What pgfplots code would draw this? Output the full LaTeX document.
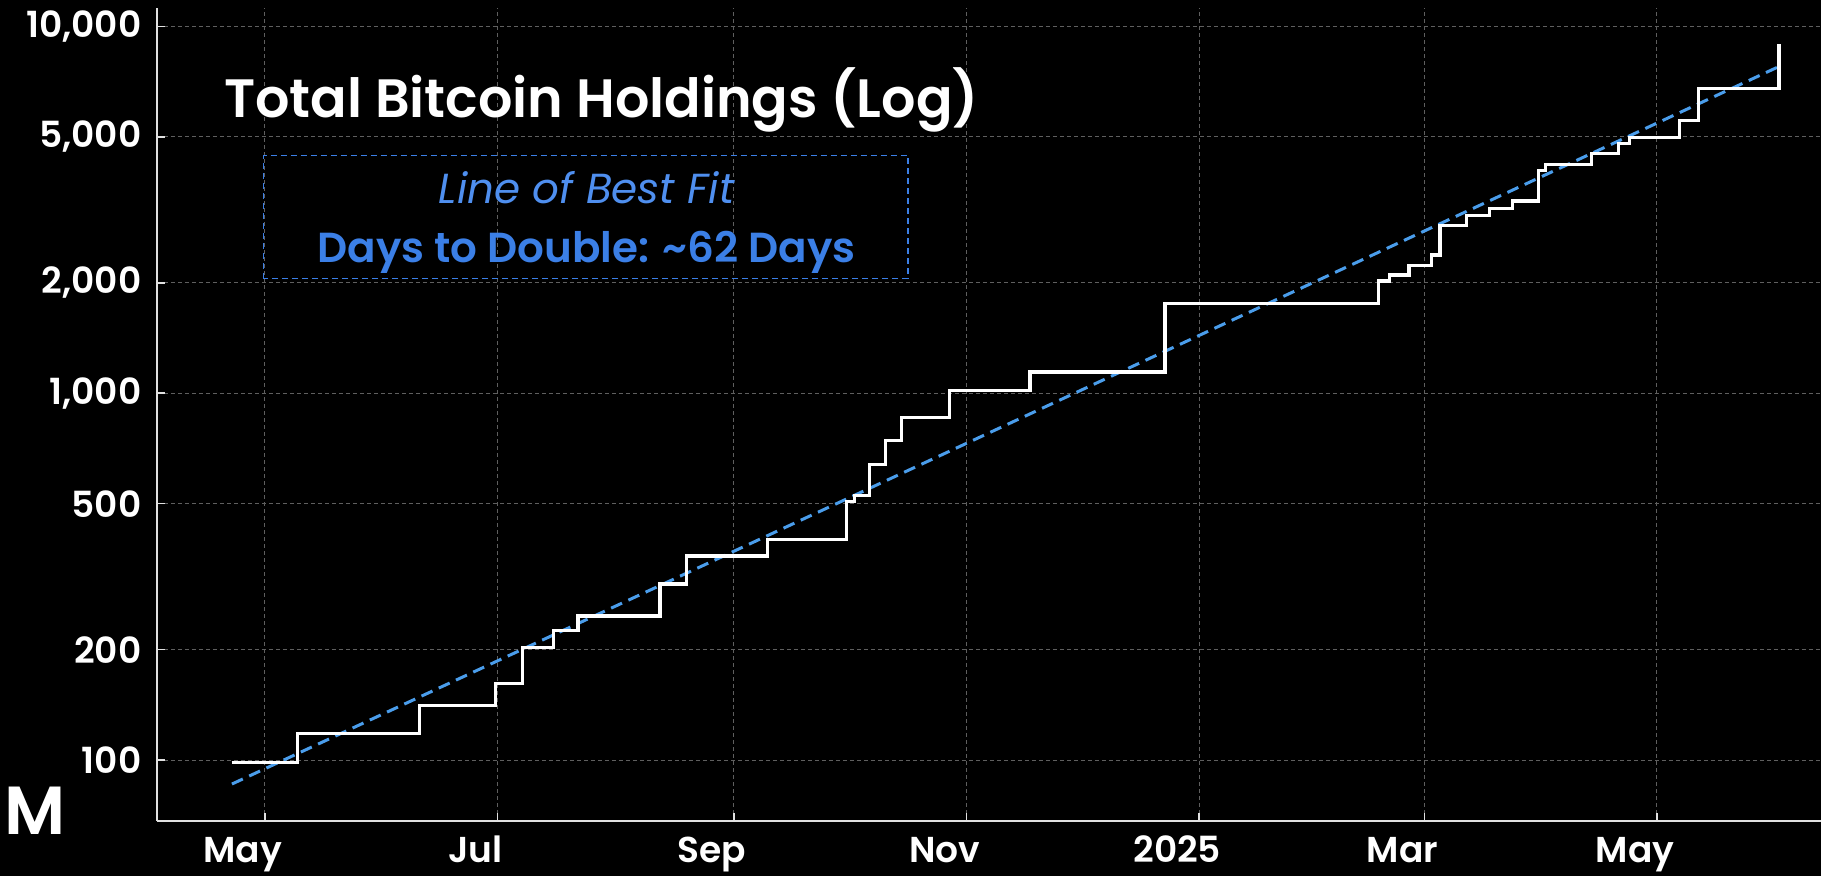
\documentclass[border=0pt]{standalone}
\usepackage{fontspec}
\setmainfont{Poppins}[BoldFont={Poppins SemiBold}, BoldItalicFont={Poppins SemiBold Italic}]
\usepackage{pgfplots}
\pgfplotsset{compat=1.18}
\definecolor{fitblue}{HTML}{4A9DEB}
\definecolor{boxblue}{HTML}{3B7FE6}
\definecolor{lineblue}{HTML}{4F8FEF}
\definecolor{gridgray}{RGB}{95,95,95}
\definecolor{spine}{RGB}{225,225,225}
\pgfplotstableread{
day value
-8.7 98.4
8.6 118
40.6 141
60.5 162
67.5 203
75.7 226
82.1 247
103.6 302
110.5 360
131.8 400
152.6 507
154.7 525
158.6 640
162.7 745
167.0 859
179.6 1015
200.6 1143
236.0 1755
291.9 2023
294.9 2102
300.0 2228
305.9 2383
308.1 2872
315.1 3045
321.1 3183
327.2 3345
334.0 4040
335.8 4195
347.9 4494
354.9 4805
357.7 4990
370.9 5540
375.9 6786
397.0 8950
}\holdings
\pgfplotstableread{
day value
-8.6 86
397.0 7780
}\fit
\begin{document}
\begin{tikzpicture}
\fill[black] (-78.4pt,-27.5pt) rectangle (832.1pt,410.5pt);
\useasboundingbox (-78.4pt,-27.5pt) rectangle (832.1pt,410.5pt);
\begin{axis}[
  at={(0pt,0pt)}, anchor=south west,
  scale only axis, width=832.1pt, height=406.4pt,
  ymode=log,
  xmin=-28.3, xmax=408, ymin=68.2, ymax=11218,
  axis x line*=bottom, axis y line*=left,
  axis line style={spine, line width=1pt},
  xtick={0,61,123,184,245,304,365},
  xticklabels={May,Jul,Sep,Nov,2025,Mar,May},
  ytick={100,200,500,1000,2000,5000,10000},
  yticklabels={100,200,500,{1,000},{2,000},{5,000},{10,000}},
  minor ytick={},
  tick align=inside, major tick length=4pt,
  tick style={spine, line width=0.8pt},
  grid=major,
  major grid style={gridgray, line width=0.5pt, dash pattern=on 2pt off 1.5pt},
  tick label style={white, font=\bfseries\fontsize{18}{18}\selectfont},
  xticklabel style={anchor=base, inner sep=0pt, yshift=-21pt, xshift=-11pt},
  yticklabel style={anchor=east, inner sep=0pt, xshift=-7.5pt},
  clip=true,
]
\addplot[fitblue, line width=1.5pt, dash pattern=on 6pt off 3.5pt] table[x=day,y=value] {\fit};
\addplot[white, line width=1.6pt, const plot mark left, line join=miter] table[x=day,y=value] {\holdings};
\end{axis}
\node[anchor=base, white, font=\bfseries\fontsize{27}{27}\selectfont] at (222.4pt,351.9pt) {Total Bitcoin Holdings (Log)};
\draw[boxblue, line width=0.8pt, dash pattern=on 3pt off 2pt] (53.4pt,271.2pt) rectangle (375.6pt,332.7pt);
\node[anchor=base, lineblue, font=\itshape\fontsize{21}{21}\selectfont] at (214.9pt,308.5pt) {Line of Best Fit};
\node[anchor=base, boxblue, font=\bfseries\fontsize{21}{21}\selectfont] at (214.9pt,279pt) {Days to Double: \textasciitilde62 Days};
\node[white, inner sep=0pt, font=\bfseries\fontsize{34}{34}\selectfont] at (-61pt,5pt) {M};
\end{tikzpicture}
\end{document}
